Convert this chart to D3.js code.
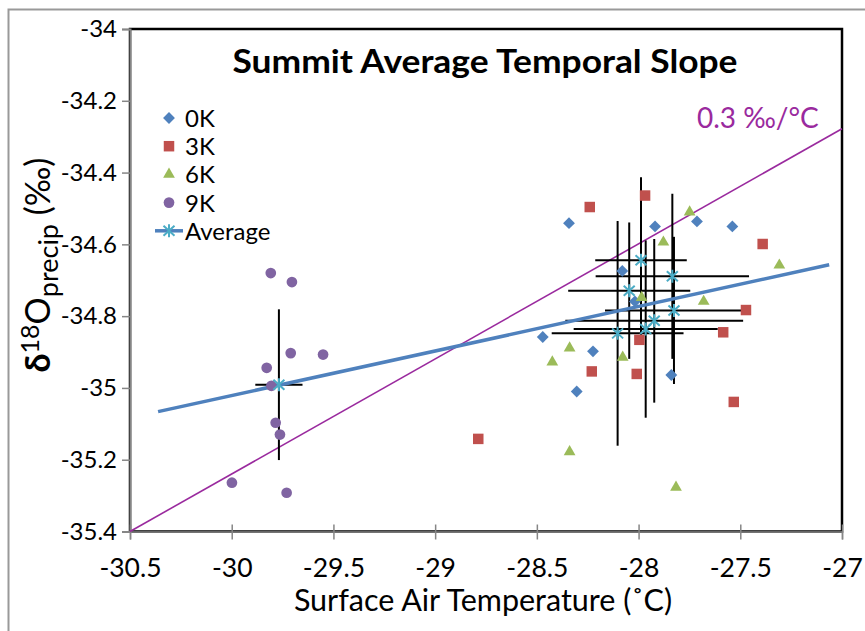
<!DOCTYPE html>
<html>
<head>
<meta charset="utf-8">
<script src="https://cdn.jsdelivr.net/npm/d3@7"></script>
<style>
    body { margin: 0; background: #fff; }
    text { font-family: Lato, 'Open Sans', sans-serif; }
</style>
</head>
<body>
<div id="grafica"></div>
<script>
// tick values
const xTicks = [-30.5, -30, -29.5, -29, -28.5, -28, -27.5, -27]
const yTicks = [-34, -34.2, -34.4, -34.6, -34.8, -35, -35.2, -35.4]

// scatter series [temp, d18O]
const k0 = [[-28.342, -34.541], [-27.919, -34.550], [-27.713, -34.536], [-27.539, -34.550], [-28.080, -34.674],
    [-28.018, -34.759], [-28.471, -34.858], [-28.224, -34.898], [-28.304, -35.010], [-27.839, -34.964]]
const k3 = [[-27.968, -34.464], [-28.240, -34.496], [-27.390, -34.599], [-27.472, -34.783], [-27.584, -34.845],
    [-27.996, -34.866], [-28.230, -34.954], [-28.009, -34.961], [-27.532, -35.039], [-28.788, -35.142]]
const k6 = [[-27.749, -34.510], [-27.878, -34.594], [-27.308, -34.658], [-27.985, -34.748], [-27.680, -34.759],
    [-28.339, -34.889], [-28.424, -34.928], [-28.078, -34.915], [-28.339, -35.178], [-27.816, -35.277]]
const k9 = [[-29.808, -34.680], [-29.704, -34.705], [-29.710, -34.903], [-29.551, -34.907], [-29.828, -34.944],
    [-29.805, -34.994], [-29.784, -35.097], [-29.763, -35.130], [-29.999, -35.264], [-29.730, -35.292]]

// averages with error bars
const avgX = [-27.988, -27.834, -28.046, -27.826, -27.923, -27.965, -28.103, -29.768]
const avgY = [-34.644, -34.689, -34.729, -34.784, -34.813, -34.836, -34.848, -34.991]
const avgXErr = [0.225, 0.377, 0.300, 0.339, 0.437, 0.354, 0.324, 0.116]
const avgYErr = [0.231, 0.230, 0.190, 0.205, 0.228, 0.247, 0.313, 0.210]

// lines
const trendX = [-30.362, -27.063]
const trendY = [-35.066, -34.657]
const slopeX = [-30.5, -27]
const slopeY = [-35.4, -34.278]

const width = 865
const height = 631
var blueColor = '#4F81BD'
var redColor = '#C0504D'
var greenColor = '#9BBB59'
var purpleColor = '#8064A2'
var aquaColor = '#4BACC6'
var lineColor = '#9A2A9E'
var axisGrey = '#868686'

const svg = d3.select('#grafica')
    .append('svg')
    .attr('width', width)
    .attr('height', height)

// outer chart frame
svg.append('rect')
    .attr('x', 8.5).attr('y', 9.5)
    .attr('width', 900).attr('height', 700)
    .attr('fill', 'none')
    .attr('stroke', '#999')
    .attr('stroke-width', 2)

const x = d3.scaleLinear()
    .domain([-30.5, -27])
    .range([130, 842])

const y = d3.scaleLinear()
    .domain([-35.4, -34])
    .range([531.5, 29])

// plot area border
svg.append('rect')
    .attr('x', x(-30.5)).attr('y', y(-34))
    .attr('width', x(-27) - x(-30.5))
    .attr('height', y(-35.4) - y(-34))
    .attr('fill', 'none')
    .attr('stroke', '#000')
    .attr('stroke-width', 2.5)

// axes
const yAxis = svg.append('g')
    .attr('transform', `translate(${x(-30.5)}, 0)`)
    .call(d3.axisLeft(y).tickValues(yTicks).tickSize(8).tickPadding(5).tickFormat(d => String(d)))
yAxis.select('.domain').attr('stroke', axisGrey).attr('stroke-width', 2)
yAxis.selectAll('.tick line').attr('stroke', axisGrey).attr('stroke-width', 1.5)
yAxis.selectAll('.tick text')
    .style('font-size', '24px')
    .style('font-family', 'Lato')
    .attr('fill', '#000')

const xAxis = svg.append('g')
    .attr('transform', `translate(0, ${y(-35.4)})`)
    .call(d3.axisBottom(x).tickValues(xTicks).tickSize(8).tickPadding(19).tickFormat(d => String(d)))
xAxis.select('.domain').attr('stroke', axisGrey).attr('stroke-width', 1.5)
xAxis.selectAll('.tick line').attr('stroke', axisGrey).attr('stroke-width', 1.5).attr('y1', -7)
xAxis.selectAll('.tick text')
    .style('font-size', '26.5px')
    .style('font-family', 'Lato')
    .attr('fill', '#000')

// 0.3 permil/C line
svg.append('line')
    .attr('x1', x(slopeX[0])).attr('y1', y(slopeY[0]))
    .attr('x2', x(slopeX[1])).attr('y2', y(slopeY[1]))
    .attr('stroke', lineColor)
    .attr('stroke-width', 1.6)

// error bars
const bars = svg.append('g').attr('stroke', '#000').attr('stroke-width', 2)
avgX.forEach((ax, i) => {
    bars.append('line')
        .attr('x1', x(ax)).attr('x2', x(ax))
        .attr('y1', y(avgY[i] + avgYErr[i])).attr('y2', y(avgY[i] - avgYErr[i]))
    bars.append('line')
        .attr('x1', x(ax - avgXErr[i])).attr('x2', x(ax + avgXErr[i]))
        .attr('y1', y(avgY[i])).attr('y2', y(avgY[i]))
})

// trendline of the averages
svg.append('line')
    .attr('x1', x(trendX[0])).attr('y1', y(trendY[0]))
    .attr('x2', x(trendX[1])).attr('y2', y(trendY[1]))
    .attr('stroke', blueColor)
    .attr('stroke-width', 3.5)

const asterisk = 'M0,-6.5V6.5M-5.5,-5L5.5,5M-5.5,5L5.5,-5'

const series = [
    { name: '0K', data: k0, color: blueColor, symbol: d3.symbolSquare, size: 70, rot: 45 },
    { name: '3K', data: k3, color: redColor, symbol: d3.symbolSquare, size: 110, rot: 0 },
    { name: '6K', data: k6, color: greenColor, symbol: d3.symbolTriangle, size: 60, rot: 0 },
    { name: '9K', data: k9, color: purpleColor, symbol: d3.symbolCircle, size: 90, rot: 0 }
]

series.forEach(s => {
    svg.append('g').selectAll('path')
        .data(s.data)
        .enter().append('path')
        .attr('d', d3.symbol().type(s.symbol).size(s.size))
        .attr('transform', d => `translate(${x(d[0])}, ${y(d[1])}) rotate(${s.rot})`)
        .attr('fill', s.color)
})

// average markers
svg.append('g').selectAll('path')
    .data(avgX)
    .enter().append('path')
    .attr('d', asterisk)
    .attr('transform', (d, i) => `translate(${x(d)}, ${y(avgY[i])})`)
    .attr('fill', 'none')
    .attr('stroke', aquaColor)
    .attr('stroke-width', 2)

// legend
const legend = svg.append('g').attr('transform', 'translate(169, 118)')
series.forEach((s, i) => {
    legend.append('path')
        .attr('d', d3.symbol().type(s.symbol).size(s.size))
        .attr('transform', `translate(0, ${i * 28.2}) rotate(${s.rot})`)
        .attr('fill', s.color)
    legend.append('text')
        .attr('x', 16).attr('y', i * 28.2 + 9)
        .text(s.name)
        .style('font-size', '24px')
})
legend.append('line')
    .attr('x1', -14).attr('x2', 14)
    .attr('y1', 4 * 28.2).attr('y2', 4 * 28.2)
    .attr('stroke', blueColor).attr('stroke-width', 3.5)
legend.append('path')
    .attr('d', asterisk)
    .attr('transform', `translate(0, ${4 * 28.2})`)
    .attr('fill', 'none').attr('stroke', aquaColor).attr('stroke-width', 2)
legend.append('text')
    .attr('x', 16).attr('y', 4 * 28.2 + 9)
    .text('Average')
    .style('font-size', '24px')

// title
svg.append('text')
    .attr('x', 485).attr('y', 73)
    .attr('text-anchor', 'middle')
    .attr('textLength', 505)
    .attr('lengthAdjust', 'spacingAndGlyphs')
    .style('font-size', '33px')
    .style('font-weight', 'bold')
    .text('Summit Average Temporal Slope')

// slope label
svg.append('text')
    .attr('x', 697).attr('y', 128)
    .attr('fill', lineColor)
    .style('font-size', '28px')
    .text('0.3 ‰/°C')

// x axis title
svg.append('text')
    .attr('x', 483).attr('y', 611)
    .attr('text-anchor', 'middle')
    .style('font-size', '30.5px')
    .text('Surface Air Temperature (˚C)')

// y axis title
const yTitle = svg.append('text')
    .attr('transform', 'translate(50, 265) rotate(-90)')
    .attr('text-anchor', 'middle')
    .style('font-size', '34px')
yTitle.append('tspan').text('δ').style('font-weight', 'bold')
yTitle.append('tspan').text('18').attr('dy', -11).style('font-size', '25px')
yTitle.append('tspan').text('O').attr('dy', 11)
yTitle.append('tspan').text('precip').attr('dy', 8).style('font-size', '27px')
yTitle.append('tspan').text(' (‰)').attr('dy', -8)
</script>
</body>
</html>
